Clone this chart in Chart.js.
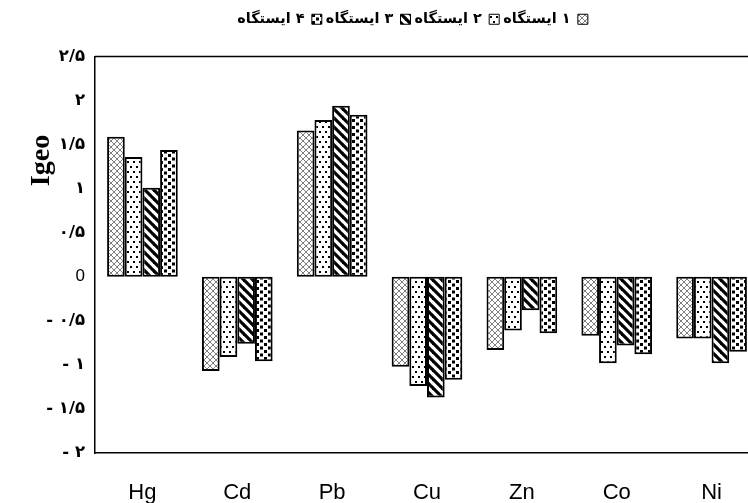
<!DOCTYPE html>
<html><head><meta charset="utf-8">
<script src="https://cdn.jsdelivr.net/npm/chart.js@4/dist/chart.umd.min.js"></script>
<style>
html,body{margin:0;padding:0;background:#fff;overflow:hidden;width:748px;height:503px}
#wrap{width:760px;height:503px;position:relative}
</style></head><body><div id="wrap"><canvas id="c" width="760" height="503"></canvas></div>
<script>
const categories = ['Hg','Cd','Pb','Cu','Zn','Co','Ni'];
const station1 = [1.59,-1.07,1.66,-1.02,-0.83,-0.67,-0.70];
const station2 = [1.36,-0.91,1.78,-1.24,-0.61,-0.98,-0.70];
const station3 = [1.01,-0.76,1.94,-1.37,-0.38,-0.78,-0.98];
const station4 = [1.44,-0.96,1.84,-1.17,-0.64,-0.88,-0.85];
const seriesNames = ['ایستگاه ۱','ایستگاه ۲','ایستگاه ۳','ایستگاه ۴'];
const yTickValues = [-2,-1.5,-1,-0.5,0,0.5,1,1.5,2,2.5];
const yTickLabels = ['- ۲','- ۱/۵','- ۱','- ۰/۵','0','۰/۵','۱','۱/۵','۲','۲/۵'];
const yTitle = 'Igeo';

function makePattern(kind){
  const c = document.createElement('canvas');
  const x = c.getContext('2d');
  if(kind===1){ // fine cross-hatch
    c.width=6;c.height=6;x.fillStyle='#fff';x.fillRect(0,0,6,6);
    x.fillStyle='rgba(0,0,0,0.5)';
    for(let i=0;i<6;i++){x.fillRect(i,i,1,1);x.fillRect(5-i,i,1,1);}
  } else if(kind===2){ // dots
    c.width=6;c.height=10;x.fillStyle='#fff';x.fillRect(0,0,6,10);
    x.fillStyle='#000';x.fillRect(1,1,2,2);x.fillRect(4,6,2,2);
  } else if(kind===3){ // diagonal stripes
    c.width=9;c.height=9;x.fillStyle='#fff';x.fillRect(0,0,9,9);
    x.strokeStyle='#000';x.lineWidth=3.2;
    for(const o of [-9,0,9]){x.beginPath();x.moveTo(o-1,-1);x.lineTo(o+10,10);x.stroke();}
  } else { // checker squares
    c.width=8;c.height=7;x.fillStyle='#fff';x.fillRect(0,0,8,7);
    x.fillStyle='#000';x.fillRect(0,0,3,3);x.fillRect(4,3.5,3,3);
  }
  return x.createPattern(c,'repeat');
}
const patterns=[makePattern(1),makePattern(2),makePattern(3),makePattern(4)];
const seriesData=[station1,station2,station3,station4];

const legendShift = {id:'legendShift', afterLayout(chart){ if(chart.legend){chart.legend.left+=33;chart.legend.right+=33;} }};
const frame = {id:'frame', afterDraw(chart){
  const {ctx, chartArea:a} = chart;
  ctx.save();
  ctx.strokeStyle='#000';ctx.lineWidth=1.5;
  ctx.beginPath();ctx.moveTo(a.left,a.top);ctx.lineTo(a.right,a.top);ctx.stroke();
  ctx.fillStyle='#000';
  ctx.font='bold 28px "Liberation Serif"';
  ctx.translate(a.left-53, a.top+104);
  ctx.rotate(-Math.PI/2);
  ctx.textAlign='center';ctx.textBaseline='middle';
  ctx.fillText(yTitle,0,0);
  ctx.restore();
}};

new Chart(document.getElementById('c'), {
  type:'bar',
  data:{
    labels:categories,
    datasets: seriesNames.map((n,i)=>({
      label:n, data:seriesData[i], backgroundColor:patterns[i],
      borderColor:'#000', borderWidth:2, borderSkipped:false,
      barPercentage:1.0, categoryPercentage:0.745
    }))
  },
  options:{
    responsive:false, animation:false, devicePixelRatio:1,
    layout:{padding:{top:8,left:0,right:1,bottom:0}},
    plugins:{
      tooltip:{enabled:false},
      title:{display:true,text:'',weight:500,padding:{top:19,bottom:0},font:{size:1,lineHeight:1}},
      legend:{
        display:true, position:'top', rtl:true, textDirection:'ltr',
        labels:{
          boxWidth:10, boxHeight:10, padding:4, color:'#000',
          font:{family:'DejaVu Sans', weight:'bold', size:14.5},
          generateLabels(chart){
            const items = Chart.defaults.plugins.legend.labels.generateLabels(chart);
            items.forEach(it=>{ it.text = it.text.replace(' ', '\u200E '); it.lineWidth=1; it.strokeStyle='#000'; });
            return items;
          }
        }
      }
    },
    scales:{
      x:{
        grid:{display:false, drawTicks:false},
        border:{display:true,color:'#000',width:1.5},
        ticks:{padding:27, color:'#000', font:{family:'Liberation Sans', size:22}},
        afterFit(s){ s.height=50; }
      },
      y:{
        min:-2, max:2.5,
        afterBuildTicks(s){ s.ticks = yTickValues.map(v=>({value:v})); },
        grid:{display:false, drawTicks:false},
        border:{display:true,color:'#000',width:1.5},
        ticks:{
          padding:10, color:'#000',
          callback(v){ const i=yTickValues.indexOf(v); return i>=0?yTickLabels[i]:''; },
          font(ctx){ return (ctx.tick && ctx.tick.value===0) ? {family:'Liberation Sans', size:17, weight:'normal'} : {family:'DejaVu Sans', size:16.5, weight:'bold'}; }
        },
        afterFit(s){ s.width=95; }
      }
    }
  },
  plugins:[legendShift, frame]
});
</script></body></html>
